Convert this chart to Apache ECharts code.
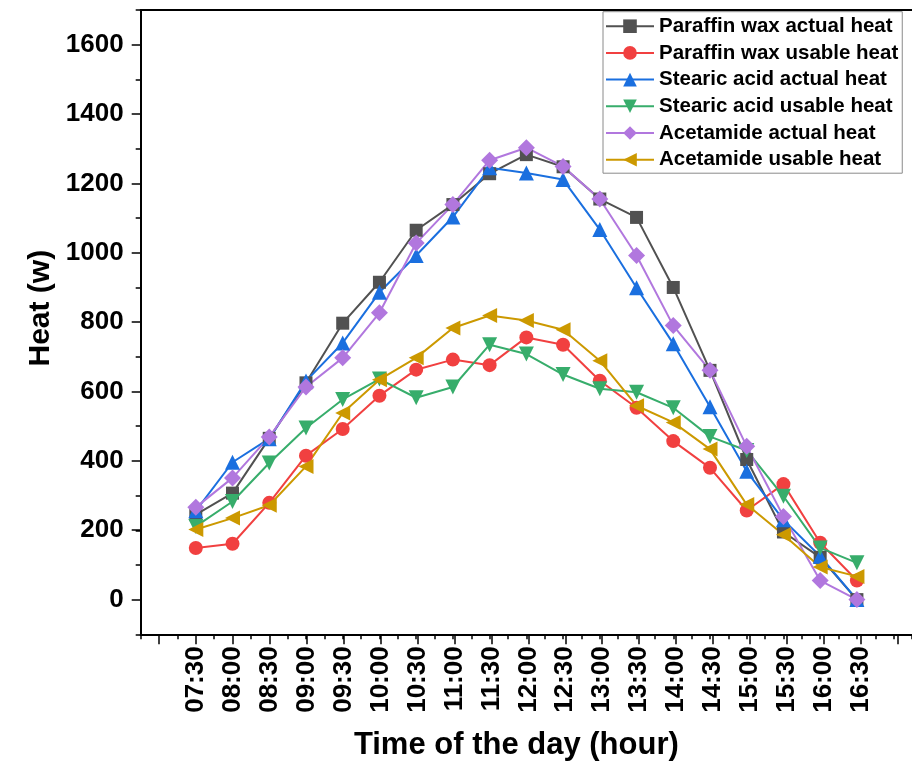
<!DOCTYPE html>
<html>
<head>
<meta charset="utf-8">
<script src="https://cdn.jsdelivr.net/npm/echarts@6.0.0/dist/echarts.min.js"></script>
<style>
html,body{margin:0;padding:0;background:#fff;}
#chart{width:912px;height:767px;}
</style>
</head>
<body>
<div id="chart"></div>
<script>
// ---- data ----
const categories = ['07:30','08:00','08:30','09:00','09:30','10:00','10:30','11:00','11:30','12:00','12:30','13:00','13:30','14:00','14:30','15:00','15:30','16:00','16:30'];
const paraffinActual = [245, 307, 465, 625, 797, 915, 1065, 1139, 1228, 1283, 1248, 1155, 1102, 900, 661, 404, 195, 122, 0];
const paraffinUsable = [149, 161, 279, 415, 492, 588, 663, 692, 676, 756, 735, 631, 553, 457, 380, 257, 333, 164, 55];
const stearicActual  = [256, 396, 464, 630, 740, 886, 992, 1103, 1245, 1230, 1211, 1067, 899, 738, 556, 370, 230, 125, 0];
const stearicUsable  = [211, 283, 394, 495, 577, 636, 582, 613, 735, 708, 649, 608, 598, 553, 470, 430, 298, 149, 106];
const acetActual     = [266, 351, 469, 613, 697, 827, 1028, 1139, 1267, 1303, 1249, 1155, 992, 790, 661, 442, 240, 55, 0];
const acetUsable     = [202, 235, 272, 384, 538, 634, 697, 783, 819, 805, 778, 689, 559, 511, 434, 274, 187, 94, 67];
const seriesNames = ['Paraffin wax actual heat','Paraffin wax usable heat','Stearic acid actual heat','Stearic acid usable heat','Acetamide actual heat','Acetamide usable heat'];

// ---- styling ----
const colors = ['#515151','#F14040','#1A6FDF','#37AD6B','#B177DE','#CC9900'];
const symbols = ['rect','circle','triangle','triangle','diamond','triangle'];
const symbolRot = [0,0,0,180,0,90];
const symbolSizes = [13,14,15,15,17,15];
const FONT = '"Liberation Sans", Arial, sans-serif';
const valuesList = [paraffinActual, paraffinUsable, stearicActual, stearicUsable, acetActual, acetUsable];

const G0 = {left:140.7, top:10, width:775.3, height:624.3};
const unitX = 775.3/21;   // px per category
const unitY = 624.3/1800; // px per W

const chart = echarts.init(document.getElementById('chart'), null, {renderer:'canvas'});

const series = valuesList.map((vals, k) => ({
  name: seriesNames[k],
  type: 'line',
  xAxisIndex: 0,
  yAxisIndex: 0,
  data: vals.map((v, i) => [i, v]),
  symbol: symbols[k],
  symbolRotate: symbolRot[k],
  symbolSize: symbolSizes[k],
  showAllSymbol: true,
  clip: false,
  lineStyle: {color: colors[k], width: 2},
  itemStyle: {color: colors[k]},
  emphasis: {disabled: true}
}));

const option = {
  animation: false,
  backgroundColor: '#fff',
  textStyle: {fontFamily: FONT},
  grid: [
    {left: G0.left, top: G0.top, width: G0.width, height: G0.height},
    {left: G0.left + 0.5*unitX, top: G0.top, width: 20*unitX, height: G0.height},
    {left: G0.left, top: G0.top + 100*unitY, width: G0.width, height: 1600*unitY}
  ],
  xAxis: [
    {gridIndex:0, type:'value', min:-1.5, max:19.5, interval:0.5,
     axisLine:{show:true, onZero:false, lineStyle:{color:'#000', width:2}},
     axisTick:{show:true, length:5, lineStyle:{color:'#000', width:1.5}},
     axisLabel:{show:false}, splitLine:{show:false},
     name:'Time of the day (hour)', nameLocation:'middle', nameGap:96,
     nameTextStyle:{fontFamily:FONT, fontSize:31, fontWeight:'bold', color:'#000', padding:[0,20,0,0]}},
    {gridIndex:0, type:'value', position:'top', min:-1.5, max:19.5,
     axisLine:{show:true, onZero:false, lineStyle:{color:'#000', width:2}},
     axisTick:{show:false}, axisLabel:{show:false}, splitLine:{show:false}},
    {gridIndex:1, type:'value', min:-1, max:19, interval:1,
     axisLine:{show:false, onZero:false},
     axisTick:{show:true, length:10, lineStyle:{color:'#000', width:1.5}},
     axisLabel:{show:true, rotate:90, margin:12, fontFamily:FONT, fontSize:26, fontWeight:'bold', color:'#000',
       formatter: v => { const i = Math.round(v); return (i >= 0 && i < categories.length) ? categories[i] : ''; }},
     splitLine:{show:false}},
    {gridIndex:2, type:'value', min:-1.5, max:19.5, show:false}
  ],
  yAxis: [
    {gridIndex:0, type:'value', min:-100, max:1700, interval:100,
     axisLine:{show:true, onZero:false, lineStyle:{color:'#000', width:2}},
     axisTick:{show:true, length:5, lineStyle:{color:'#000', width:1.5}},
     axisLabel:{show:false}, splitLine:{show:false},
     name:'Heat (w)', nameLocation:'middle', nameGap:85,
     nameTextStyle:{fontFamily:FONT, fontSize:30, fontWeight:'bold', color:'#000', padding:[0,0,0,28]}},
    {gridIndex:1, type:'value', min:-100, max:1700, show:false},
    {gridIndex:2, type:'value', min:0, max:1600, interval:200,
     axisLine:{show:false, onZero:false},
     axisTick:{show:true, length:9, lineStyle:{color:'#000', width:1.5}},
     axisLabel:{show:true, margin:17, fontFamily:FONT, fontSize:26, fontWeight:'bold', color:'#000',
       formatter: v => String(Math.round(v))},
     splitLine:{show:false}}
  ],
  legend: {
    show: true,
    orient: 'vertical',
    left: 603, top: 11.7,
    padding: [4,4,3,2],
    itemWidth: 48, itemHeight: 17, itemGap: 5.7,
    backgroundColor: '#fff',
    borderColor: '#8a8a8a', borderWidth: 1,
    selectedMode: false,
    textStyle: {fontFamily: FONT, fontSize: 20.5, fontWeight: 'bold', color: '#000', lineHeight: 20},
    data: seriesNames
  },
  series: series
};
chart.setOption(option);
</script>
</body>
</html>
